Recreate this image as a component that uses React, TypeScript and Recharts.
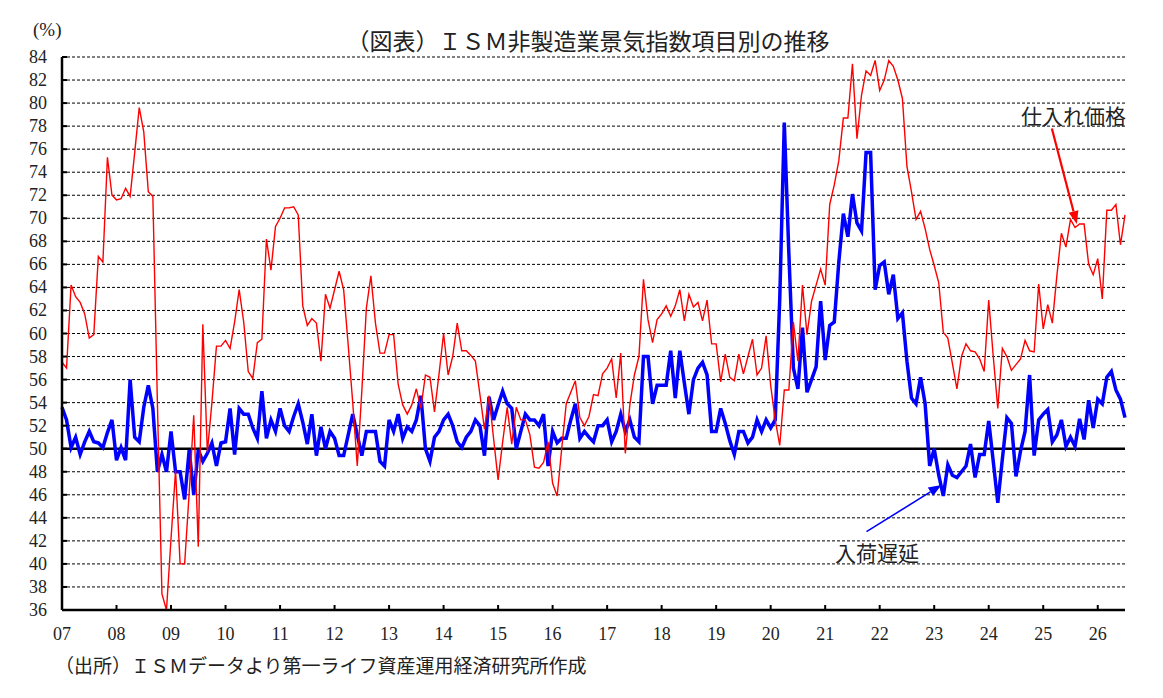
import {
  LineChart,
  Line,
  XAxis,
  YAxis,
  CartesianGrid,
  ReferenceLine
} from 'recharts'

// 仕入れ価格 (prices), monthly from 2007-01
const PRICES = [
  57.5, 57.0, 64.2, 63.2, 62.7, 61.7, 59.6, 59.9, 66.7, 66.2, 75.3, 72.0,
  71.6, 71.7, 72.6, 71.9, 75.7, 79.6, 77.5, 72.3, 71.9, 54.0, 37.4, 36.0,
  42.2, 48.1, 40.0, 40.0, 46.2, 52.9, 41.5, 60.8, 49.7, 54.0, 58.9, 58.9,
  59.4, 58.7, 61.0, 63.8, 61.0, 56.7, 56.1, 59.2, 59.5, 68.2, 65.5, 69.3,
  70.0, 70.9, 70.9, 71.0, 70.3, 62.4, 60.7, 61.3, 60.9, 57.6, 63.4, 62.2,
  63.8, 65.4, 63.8, 59.0, 54.0, 48.5, 55.0, 62.2, 65.0, 60.9, 58.3, 58.3,
  59.9, 59.9, 55.6, 53.8, 53.0, 53.8, 55.2, 53.5, 56.4, 56.2, 53.2, 56.5,
  60.0, 56.4, 58.0, 60.9, 58.5, 58.5, 58.1, 57.6, 54.7, 51.7, 54.6, 50.9,
  47.3, 50.6, 53.6, 50.4, 53.6, 52.5, 52.5, 51.2, 48.4, 48.3, 48.8, 50.6,
  47.0, 45.9, 50.0, 53.9, 54.9, 55.9, 52.7, 52.0, 52.8, 54.7, 54.6, 56.5,
  57.0, 57.8, 54.4, 58.3, 49.6, 53.8, 56.4, 58.0, 64.7, 61.2, 59.2, 61.2,
  61.7, 62.4, 61.5, 62.4, 63.8, 61.1, 63.4, 62.3, 62.7, 61.1, 62.9, 59.1,
  59.1, 55.8, 58.2, 56.2, 55.9, 58.2, 56.5, 58.0, 59.5, 56.4, 57.0, 59.8,
  55.5, 52.5, 50.3, 55.1, 55.1, 61.0, 57.6, 64.2, 59.9, 62.8, 64.2, 65.6,
  64.2, 71.2, 72.9, 75.0, 78.7, 78.7, 83.4, 76.9, 80.7, 82.8, 82.4, 83.7,
  81.1, 82.0, 83.7, 83.2, 82.0, 80.4, 74.5, 72.3, 69.9, 70.6, 69.1, 67.3,
  65.9, 64.4, 60.1, 59.6, 57.4, 55.2, 58.0, 59.1, 58.5, 58.4, 57.8, 56.7,
  62.9, 58.0, 53.5, 58.7, 58.0, 56.8, 57.3, 57.8, 59.4, 58.5, 58.4, 64.3,
  60.4, 62.5, 60.9, 65.0, 68.7, 67.5, 69.9, 69.2, 69.5, 69.5, 66.0, 65.1,
  66.5, 63.0, 70.7, 70.7, 71.2, 67.7, 70.3
]

// 入荷遅延 (supplier deliveries)
const DELIVERIES = [
  53.6, 52.5, 50.1, 51.0, 49.5, 50.6, 51.5, 50.6, 50.5, 50.1, 51.4, 52.5,
  49.0, 50.1, 49.0, 56.0, 51.0, 50.6, 53.6, 55.5, 53.5, 48.0, 49.5, 48.0,
  51.5, 48.0, 48.0, 45.6, 49.9, 46.0, 49.9, 48.9, 49.6, 50.5, 48.5, 50.5,
  50.6, 53.5, 49.5, 53.5, 53.0, 53.0, 51.8, 50.9, 55.0, 50.9, 52.5, 51.5,
  53.5, 52.0, 51.5, 52.8, 53.9, 52.3, 50.4, 53.0, 49.4, 51.9, 50.0, 51.5,
  50.9, 49.4, 49.4, 51.2, 53.0, 51.2, 49.4, 51.5, 51.5, 51.5, 48.9, 48.5,
  52.5, 51.5, 53.0, 50.9, 51.9, 51.5, 52.5, 54.6, 50.0, 48.9, 51.0, 51.5,
  52.5, 53.0, 52.0, 50.6, 50.1, 51.0, 51.5, 52.5, 52.0, 49.4, 54.5, 52.5,
  53.8, 55.0, 53.9, 53.5, 50.0, 51.5, 53.0, 52.5, 52.5, 52.0, 53.0, 48.5,
  51.5, 50.5, 50.9, 50.9, 52.5, 53.9, 50.9, 51.5, 51.0, 50.6, 52.0, 52.0,
  52.5, 50.6, 51.5, 53.0, 51.5, 52.5, 51.0, 50.6, 58.0, 58.0, 53.9, 55.5,
  55.5, 55.5, 58.5, 54.4, 58.5, 55.7, 53.0, 56.0, 57.0, 57.5, 56.4, 51.5,
  51.5, 53.5, 52.2, 50.7, 49.5, 51.5, 51.5, 50.5, 51.0, 52.5, 51.5, 52.5,
  51.8, 52.5, 63.0, 78.3, 67.0, 57.0, 55.2, 60.5, 54.9, 56.0, 57.1, 62.8,
  57.7, 60.7, 61.0, 66.2, 70.4, 68.4, 72.1, 69.6, 68.9, 75.7, 75.7, 63.8,
  65.9, 66.2, 63.4, 65.1, 61.3, 61.8, 57.6, 54.4, 53.9, 56.2, 53.9, 48.5,
  50.0, 47.7, 45.9, 48.6, 47.7, 47.5, 48.0, 48.5, 50.4, 47.5, 49.5, 49.5,
  52.4, 48.9, 45.3, 49.1, 52.7, 52.2, 47.6, 49.8, 51.5, 56.4, 49.4, 52.5,
  53.0, 53.4, 50.6, 51.2, 52.5, 50.2, 51.0, 50.2, 52.6, 50.8, 54.2, 51.8,
  54.3, 53.9, 56.2, 56.7, 55.1, 54.3, 52.7
]

const YEAR_LABELS = [
  '07', '08', '09', '10', '11', '12', '13', '14', '15', '16',
  '17', '18', '19', '20', '21', '22', '23', '24', '25', '26'
]

const Y_TICKS = [
  36, 38, 40, 42, 44, 46, 48, 50, 52, 54, 56, 58, 60,
  62, 64, 66, 68, 70, 72, 74, 76, 78, 80, 82, 84
]

const X_TICKS = YEAR_LABELS.map((_, i) => i * 12)

const data = PRICES.map((p, i) => ({ idx: i, prices: p, deliveries: DELIVERIES[i] }))

const SERIF = "Liberation Serif, DejaVu Serif, serif"
const JP = "Liberation Serif, Noto Sans CJK JP, sans-serif"

const PLOT_LEFT = 62
const PLOT_BOTTOM = 610

const YTick = (props: any) => {
  const { y, payload } = props
  return (
    <g>
      <text x={47} y={y} textAnchor="end" dominantBaseline="central"
        style={{ fontFamily: SERIF, fontSize: 18 }} fill="#222">
        {payload.value}
      </text>
      <line x1={PLOT_LEFT} x2={PLOT_LEFT + 5} y1={y} y2={y} stroke="#000" strokeWidth={2} />
    </g>
  )
}

const XTick = (props: any) => {
  const { x, payload } = props
  const label = YEAR_LABELS[Math.round(payload.value / 12)]
  return (
    <g>
      <line x1={x} x2={x} y1={PLOT_BOTTOM} y2={PLOT_BOTTOM - 5} stroke="#000" strokeWidth={2} />
      <text x={x} y={634} textAnchor="middle" dominantBaseline="central"
        style={{ fontFamily: SERIF, fontSize: 18 }} fill="#222">
        {label}
      </text>
    </g>
  )
}

// line with filled arrowhead at the (x2, y2) end
const arrowShape = (color: string, width: number) => (props: any) => {
  const { x1, y1, x2, y2 } = props
  const ang = Math.atan2(y2 - y1, x2 - x1)
  const len = 13
  const half = 5
  const bx = x2 - len * Math.cos(ang)
  const by = y2 - len * Math.sin(ang)
  const px = -Math.sin(ang) * half
  const py = Math.cos(ang) * half
  return (
    <g>
      <line x1={x1} y1={y1} x2={bx} y2={by} stroke={color} strokeWidth={width} />
      <polygon points={`${x2},${y2} ${bx + px},${by + py} ${bx - px},${by - py}`} fill={color} />
    </g>
  )
}

const textStyle = {
  position: 'absolute' as const,
  whiteSpace: 'nowrap' as const,
  lineHeight: 1,
  color: '#222',
  fontFamily: JP
}

export default function App() {
  return (
    <div style={{ position: 'absolute', left: 0, top: 0, width: 1163, height: 698, background: '#fff' }}>
      <LineChart
        width={1163}
        height={698}
        data={data}
        margin={{ top: 57, right: 38, bottom: 58, left: 12 }}
      >
        <CartesianGrid vertical={false} stroke="#000" strokeDasharray="3 2" strokeWidth={1} />
        <XAxis
          dataKey="idx"
          type="number"
          domain={[0, 234]}
          ticks={X_TICKS}
          interval={0}
          height={30}
          tickLine={false}
          axisLine={{ stroke: '#000', strokeWidth: 2.5 }}
          tick={<XTick />}
        />
        <YAxis
          type="number"
          domain={[36, 84]}
          ticks={Y_TICKS}
          interval={0}
          width={50}
          tickLine={false}
          axisLine={{ stroke: '#000', strokeWidth: 2.5 }}
          tick={<YTick />}
        />
        <ReferenceLine y={50} stroke="#000" strokeWidth={2.5} />
        <Line
          type="linear"
          dataKey="deliveries"
          stroke="#0000ff"
          strokeWidth={3.5}
          dot={false}
          isAnimationActive={false}
        />
        <Line
          type="linear"
          dataKey="prices"
          stroke="#ff0000"
          strokeWidth={1.4}
          dot={false}
          isAnimationActive={false}
        />
        <ReferenceLine
          segment={[{ x: 217.9, y: 77.8 }, { x: 223.4, y: 69.5 }]}
          shape={arrowShape('#ff0000', 2.2)}
        />
        <ReferenceLine
          segment={[{ x: 177.1, y: 42.8 }, { x: 193.6, y: 46.85 }]}
          shape={arrowShape('#0000ff', 1.6)}
        />
      </LineChart>

      <div style={{ ...textStyle, left: 33, top: 20, fontSize: 19, fontFamily: SERIF }}>(%)</div>
      <div style={{ ...textStyle, left: 588, top: 31, fontSize: 23, transform: 'translateX(-50%)' }}>
        （図表）ＩＳＭ非製造業景気指数項目別の推移
      </div>
      <div style={{ ...textStyle, right: 1163 - 1126, top: 107, fontSize: 21 }}>仕入れ価格</div>
      <div style={{ ...textStyle, left: 835, top: 544, fontSize: 21 }}>入荷遅延</div>
      <div style={{ ...textStyle, left: 55, top: 657, fontSize: 19 }}>
        （出所）ＩＳＭデータより第一ライフ資産運用経済研究所作成
      </div>
    </div>
  )
}
